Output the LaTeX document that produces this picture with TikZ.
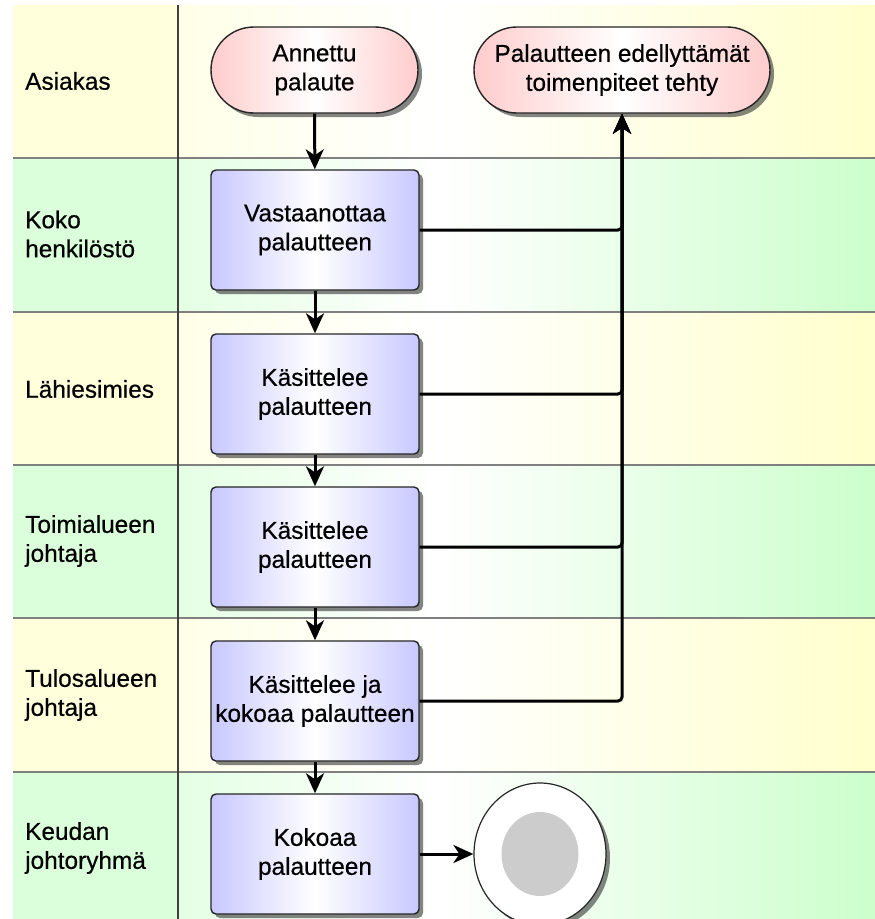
\documentclass[tikz,border=0pt]{standalone}
\usepackage{fontspec}
\setmainfont{Liberation Sans}[FakeBold=0.5]
\usetikzlibrary{arrows.meta,shadows,shapes.geometric}
\definecolor{laneY}{HTML}{FFFFDC}
\definecolor{laneYL}{HTML}{FFFFE8}
\definecolor{laneYR}{HTML}{FFFFCC}
\definecolor{laneG}{HTML}{DAFFDA}
\definecolor{laneGL}{HTML}{E4FFE4}
\definecolor{laneGR}{HTML}{CCFFCC}
\definecolor{boxblue}{HTML}{C8C8FF}
\definecolor{pillpink}{HTML}{FFCCCC}
\definecolor{laneline}{HTML}{808080}
\definecolor{endgrey}{HTML}{CCCCCC}
\tikzset{
  txt/.style={font=\fontsize{24.4}{29}\selectfont, align=center, text=black},
  shad/.style={drop shadow={shadow xshift=4pt, shadow yshift=-4pt, opacity=0.6, fill=black!80}},
  actbox/.style={txt, shad, draw=black!85, line width=1.4pt, rounded corners=5pt,
    minimum width=208pt, minimum height=120pt, inner sep=0pt,
    left color=boxblue, right color=boxblue, middle color=white},
  pill/.style={txt, shad, draw=black!85, line width=1.4pt, rounded corners=43pt,
    minimum height=86pt, inner sep=0pt,
    left color=pillpink, right color=pillpink, middle color=white},
  lanelabel/.style={font=\fontsize{24.4}{29}\selectfont, align=left, anchor=west, inner sep=0pt},
  flow/.style={line width=3pt, black, -{Stealth[length=20pt,width=18pt,inset=6pt]}},
  lanesep/.style={draw=laneline, line width=1.3pt}
}
\begin{document}
\begin{tikzpicture}[x=1pt,y=-1pt]
\useasboundingbox (0,0) rectangle (875,919);
\clip (0,0) rectangle (875,919);
\fill[white] (0,0) rectangle (875,919);
% lane backgrounds
\foreach \top/\bot/\c in {5/158/Y, 158/312/G, 312/465/Y, 465/618/G, 618/772/Y, 772/919/G}{
  \fill[lane\c] (13,\top) rectangle (178,\bot);
  \shade[left color=lane\c L, right color=white] (178,\top) rectangle (440,\bot);
  \shade[left color=white, right color=lane\c R] (440,\top) rectangle (875,\bot);
}
% lane separators
\foreach \yy in {158,312,465,618,772}{
  \draw[lanesep] (13,\yy) -- (875,\yy);
}
\draw[draw=black!75, line width=1.2pt] (178,5) -- (178,919);
% lane labels
\node[lanelabel] (l1) at (25,81) {Asiakas};
\node[lanelabel] (l2) at (25,234) {Koko\\henkilöstö};
\node[lanelabel] (l3) at (25,389) {Lähiesimies};
\node[lanelabel] (l4) at (25,541) {Toimialueen\\johtaja};
\node[lanelabel] (l5) at (25,695) {Tulosalueen\\johtaja};
\node[lanelabel] (l6) at (25,848) {Keudan\\johtoryhmä};
% nodes
\node[pill, minimum width=207pt] (start) at (314.5,70) {Annettu\\palaute};
\node[pill, minimum width=296pt] (done) at (622,70) {Palautteen edellyttämät\\toimenpiteet tehty};
\node[actbox] (a1) at (315,230) {Vastaanottaa\\palautteen};
\node[actbox] (a2) at (315,394) {Käsittelee\\palautteen};
\node[actbox] (a3) at (315,547) {Käsittelee\\palautteen};
\node[actbox] (a4) at (315,701) {Käsittelee ja\\kokoaa palautteen};
\node[actbox] (a5) at (315,854) {Kokoaa\\palautteen};
\node[ellipse, draw=black!85, line width=1.2pt, fill=white, shad, minimum width=132pt, minimum height=142pt, inner sep=0pt] (end) at (540,854) {};
\node[ellipse, fill=endgrey, minimum width=77pt, minimum height=84pt, inner sep=0pt] (endin) at (end.center) {};
% connectors
\draw[flow] (start) -- (a1);
\draw[flow] (a1) -- (a2);
\draw[flow] (a2) -- (a3);
\draw[flow] (a3) -- (a4);
\draw[flow] (a4) -- (a5);
\draw[flow] (a5) -- (end);
\foreach \n in {a1,a2,a3,a4}{
  \draw[flow, rounded corners=4pt] (\n.east) -| (done.south);
}
\end{tikzpicture}
\end{document}
